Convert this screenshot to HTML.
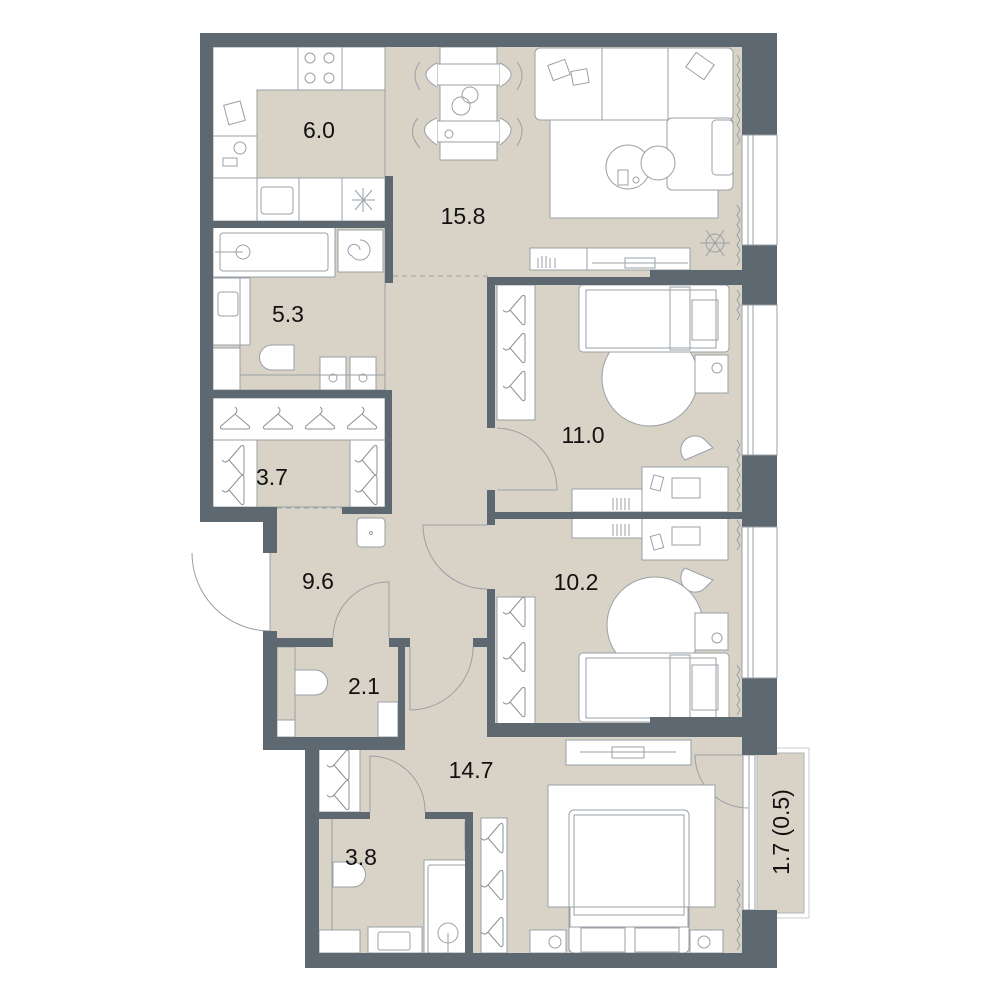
<!DOCTYPE html>
<html><head><meta charset="utf-8"><style>
html,body{margin:0;padding:0;background:#fff;}
svg{display:block;}
text{font-family:"Liberation Sans",sans-serif;font-size:23px;fill:#111;}
</style></head><body>
<svg width="1000" height="1000" viewBox="0 0 1000 1000" xmlns="http://www.w3.org/2000/svg">
<defs>
<g id="hangV"><path d="M0,-22 L-10,4 Q-12,8 -7,8 L7,8 Q12,8 10,4 Z" fill="none" stroke="#8a9095" stroke-width="1"/></g>
<g id="hanger"><path d="M-14,6 L0,-6 L14,6 Q16,9 12,9 L-12,9 Q-16,9 -14,6 Z M0,-6 Q4,-10 0,-13" fill="none" stroke="#8a9095" stroke-width="1"/></g>
<g id="hangerR"><path d="M6,-14 L-6,0 L6,14 Q9,16 9,12 L9,-12 Q9,-16 6,-14 Z M-6,0 Q-10,4 -13,0" fill="none" stroke="#8a9095" stroke-width="1"/></g>
</defs>
<g stroke="#9aa0a5" stroke-width="1" fill="none">
<!-- beige floors -->
<rect x="213" y="47" width="530" height="906" fill="#d8d3c6" stroke="none"/>
<!-- white exterior pieces outside -->
<rect x="200" y="522" width="63" height="450" fill="#fff" stroke="none"/>
<rect x="263" y="750" width="42" height="220" fill="#fff" stroke="none"/>
<!-- balcony -->
<rect x="752" y="748" width="57" height="170" fill="#fff" stroke="#c8ccd0"/>
<rect x="757" y="753" width="47" height="160" fill="#d8d3c6" stroke="#b0b5b8"/>
<rect x="743" y="755" width="12" height="155" fill="#fff"/>
<line x1="749" y1="755" x2="749" y2="910"/>

<!-- Kitchen -->
<rect x="213" y="47" width="172" height="174" fill="#fff"/>
<rect x="257" y="90" width="128" height="88" fill="#d8d3c6"/>
<line x1="298" y1="47" x2="298" y2="90"/><line x1="342" y1="47" x2="342" y2="90"/>
<circle cx="310" cy="58" r="5"/><circle cx="329" cy="58" r="5"/><circle cx="310" cy="78" r="5"/><circle cx="329" cy="78" r="5"/>
<line x1="213" y1="136" x2="257" y2="136"/><line x1="213" y1="178" x2="257" y2="178"/>
<line x1="257" y1="178" x2="257" y2="221"/><line x1="299" y1="178" x2="299" y2="221"/><line x1="342" y1="178" x2="342" y2="221"/>
<rect x="261" y="187" width="32" height="27" rx="3"/>
<path d="M355,190 L372,210 M372,190 L355,210 M363,188 L363,212 M352,200 L375,200"/>
<rect x="226" y="103" width="17" height="20" transform="rotate(-15 234 113)"/>
<circle cx="240" cy="148" r="6"/><rect x="223" y="158" width="14" height="8"/>
<line x1="385" y1="90" x2="385" y2="176" stroke-dasharray="5,4"/>
<!-- Living -->
<line x1="393" y1="276" x2="488" y2="276" stroke-dasharray="5,4"/>
<rect x="440" y="47" width="57" height="113" fill="#fff"/>
<rect x="437" y="64" width="63" height="21" fill="#fff"/>
<rect x="437" y="121" width="63" height="21" fill="#fff"/>
<path d="M437,63 Q415,74 437,87 M500,63 Q522,74 500,87 M437,118 Q412,128 437,145 M500,118 Q522,128 500,145" fill="#fff"/>
<path d="M420,62 Q410,75 420,90 M517,62 Q527,75 517,90 M418,118 Q406,132 420,148 M517,118 Q527,130 517,146"/>
<circle cx="470" cy="95" r="8"/><circle cx="461" cy="106" r="9"/><circle cx="449" cy="134" r="4"/>
<rect x="550" y="110" width="168" height="108" fill="#fff"/>
<rect x="535" y="48" width="198" height="72" rx="5" fill="#fff"/>
<line x1="602" y1="48" x2="602" y2="120"/><line x1="668" y1="48" x2="668" y2="120"/>
<rect x="667" y="118" width="66" height="72" rx="5" fill="#fff"/>
<rect x="712" y="120" width="21" height="55" rx="4"/>
<rect x="550" y="62" width="18" height="16" transform="rotate(-20 559 70)"/>
<rect x="572" y="70" width="16" height="14" transform="rotate(-10 580 77)"/>
<rect x="689" y="57" width="22" height="18" transform="rotate(35 700 66)"/>
<circle cx="628" cy="167" r="22" fill="#fff"/><circle cx="658" cy="163" r="17" fill="#fff"/>
<rect x="618" y="170" width="10" height="15"/><circle cx="636" cy="180" r="3"/>
<rect x="530" y="248" width="160" height="22" fill="#fff"/>
<line x1="587" y1="248" x2="587" y2="270"/>
<line x1="592" y1="263" x2="688" y2="263"/><rect x="625" y="258" width="30" height="10"/>
<path d="M538,268 v-10 M542,268 v-12 M546,268 v-12 M550,268 v-10 M555,268 v-10"/>
<circle cx="715" cy="243" r="9"/><path d="M706,230 L724,256 M724,230 L706,256 M700,243 L730,243"/>
<path d="M737,55 l3,5 -3,5 3,5 -3,5 3,5 -3,5 3,5 -3,5 3,5 -3,5 3,5 -3,5 3,5 -3,5 3,5 -3,5 3,5 -3,5"/>
<path d="M737,205 l3,5 -3,5 3,5 -3,5 3,5 -3,5 3,5 -3,5 3,5 -3,5 3,5 -3,5"/>
<!-- Bath 5.3 -->
<rect x="213" y="227" width="172" height="163" fill="#d8d3c6"/>
<rect x="213" y="227" width="122" height="50" fill="#fff"/>
<rect x="220" y="233" width="108" height="38" rx="3"/>
<circle cx="243" cy="252" r="7"/><line x1="215" y1="252" x2="243" y2="252"/>
<rect x="338" y="230" width="45" height="42" fill="#fff"/>
<path d="M360,240 a10,10 0 1 1 -8,16 a6,6 0 1 1 8,-6"/>
<rect x="213" y="278" width="37" height="67" fill="#fff"/>
<rect x="218" y="292" width="20" height="24" rx="3"/>
<rect x="213" y="348" width="27" height="42" fill="#fff"/>
<line x1="240" y1="278" x2="240" y2="390"/>
<path d="M272,345 h22 v25 h-22 a12,12 0 0 1 0,-25 z" fill="#fff"/>
<rect x="320" y="357" width="26" height="33" fill="#fff"/><rect x="350" y="357" width="26" height="33" fill="#fff"/>
<circle cx="333" cy="378" r="4"/><circle cx="363" cy="378" r="4"/>
<line x1="240" y1="375" x2="385" y2="375"/>
<!-- Wardrobe 3.7 -->
<rect x="213" y="398" width="172" height="109" fill="#fff"/>
<rect x="257" y="440" width="93" height="67" fill="#d8d3c6"/>
<line x1="213" y1="440" x2="385" y2="440"/>
<use href="#hanger" x="235" y="420"/><use href="#hanger" x="278" y="420"/><use href="#hanger" x="320" y="420"/><use href="#hanger" x="362" y="420"/>
<use href="#hangerR" x="235" y="460"/><use href="#hangerR" x="235" y="490"/><use href="#hangerR" x="368" y="460"/><use href="#hangerR" x="368" y="490"/>
<line x1="277" y1="508" x2="342" y2="508" stroke-dasharray="5,4"/>
<rect x="357" y="518" width="28" height="29" rx="4" fill="#fff"/><circle cx="371" cy="533" r="1.5"/>
<!-- entry door -->
<path d="M192,553 A78,78 0 0 0 270,631 L270,553" fill="#fff"/>
<!-- WC 2.1 -->
<rect x="277" y="647" width="18" height="73"/>
<rect x="277" y="720" width="18" height="17" fill="#fff"/>
<path d="M295,670 h20 a12,12 0 0 1 0,25 h-20 z" fill="#fff"/>
<rect x="378" y="702" width="20" height="35" fill="#fff"/>
<path d="M333,638 A56,56 0 0 1 389,582 L389,638"/>
<path d="M410,710 L410,647 M410,710 A63,63 0 0 0 473,647"/>
<!-- Bedroom 11.0 -->
<rect x="497" y="285" width="38" height="135" fill="#fff"/>
<use href="#hangerR" x="516" y="310"/><use href="#hangerR" x="516" y="348"/><use href="#hangerR" x="516" y="386"/>
<circle cx="650" cy="378" r="48" fill="#fff"/>
<rect x="579" y="285" width="150" height="67" rx="4" fill="#fff"/>
<rect x="586" y="290" width="130" height="58"/>
<rect x="670" y="287" width="20" height="63"/>
<rect x="692" y="300" width="26" height="40"/>
<rect x="695" y="355" width="33" height="38" fill="#fff"/><circle cx="717" cy="368" r="5"/>
<path d="M497,428 A62,62 0 0 1 557,490 L497,490"/>
<rect x="572" y="489" width="70" height="23" fill="#fff"/>
<path d="M613,510 v-12 M617,510 v-12 M621,510 v-12 M625,510 v-12 M629,510 v-12"/>
<rect x="642" y="467" width="86" height="45" fill="#fff"/>
<rect x="672" y="478" width="28" height="20"/><rect x="652" y="476" width="10" height="14" transform="rotate(15 657 483)"/>
<path d="M685,460 a14,14 0 0 1 20,-20 l8,8 z" fill="#fff"/>
<path d="M737,290 l3,5 -3,5 3,5 -3,5 3,5 -3,5 M737,440 l3,5 -3,5 3,5 -3,5 3,5 -3,5 3,5 -3,5 3,5 -3,5 3,5 -3,5 3,5 -3,5"/>
<!-- Bedroom 10.2 -->
<rect x="572" y="518" width="70" height="20" fill="#fff"/>
<path d="M613,536 v-12 M617,536 v-12 M621,536 v-12 M625,536 v-12 M629,536 v-12"/>
<rect x="642" y="518" width="86" height="42" fill="#fff"/>
<rect x="672" y="527" width="28" height="18"/><rect x="652" y="535" width="10" height="14" transform="rotate(-15 657 542)"/>
<path d="M685,568 a14,14 0 0 0 20,20 l8,-8 z" fill="#fff"/>
<circle cx="655" cy="625" r="48" fill="#fff"/>
<rect x="695" y="613" width="33" height="37" fill="#fff"/><circle cx="717" cy="638" r="5"/>
<rect x="579" y="653" width="150" height="69" rx="4" fill="#fff"/>
<rect x="586" y="658" width="130" height="60"/>
<rect x="670" y="655" width="20" height="65"/>
<rect x="692" y="665" width="26" height="45"/>
<rect x="497" y="597" width="38" height="133" fill="#fff"/>
<use href="#hangerR" x="516" y="612"/><use href="#hangerR" x="516" y="657"/><use href="#hangerR" x="516" y="702"/>
<path d="M487,525 L423,525 A64,64 0 0 0 487,589"/>
<path d="M737,520 l3,5 -3,5 3,5 -3,5 3,5 -3,5 M737,665 l3,5 -3,5 3,5 -3,5 3,5 -3,5 3,5 -3,5 3,5 -3,5"/>
<!-- Bedroom 14.7 -->
<rect x="319" y="745" width="41" height="67" fill="#fff"/>
<use href="#hangerR" x="340" y="765"/><use href="#hangerR" x="340" y="795"/>
<path d="M370,812 L370,756 A55,55 0 0 1 425,812"/>
<rect x="566" y="740" width="125" height="25" fill="#fff"/>
<line x1="580" y1="752" x2="676" y2="752"/><rect x="612" y="747" width="32" height="11"/>
<path d="M748,755 L695,755 A53,53 0 0 0 748,808"/>
<rect x="548" y="785" width="167" height="122" fill="#fff"/>
<rect x="569" y="810" width="120" height="143" rx="5" fill="#fff"/>
<rect x="574" y="815" width="110" height="100"/>
<rect x="570" y="907" width="118" height="20"/>
<rect x="581" y="928" width="44" height="24"/><rect x="635" y="928" width="44" height="24"/>
<rect x="530" y="930" width="36" height="23" fill="#fff"/><circle cx="555" cy="942" r="6"/>
<rect x="690" y="930" width="33" height="23" fill="#fff"/><circle cx="704" cy="942" r="6"/>
<rect x="481" y="818" width="26" height="135" fill="#fff"/>
<use href="#hangerR" x="494" y="838"/><use href="#hangerR" x="494" y="885"/><use href="#hangerR" x="494" y="932"/>
<path d="M737,880 l3,5 -3,5 3,5 -3,5 3,5 -3,5 3,5 -3,5 3,5 -3,5 3,5 -3,5 3,5 -3,5"/>
<!-- Bath 3.8 -->
<rect x="319" y="930" width="41" height="23" fill="#fff"/>
<line x1="332" y1="819" x2="332" y2="930"/>
<path d="M333,862 h20 a12,12 0 0 1 0,25 h-20 z" fill="#fff"/>
<rect x="424" y="860" width="46" height="93" fill="#fff"/>
<rect x="428" y="865" width="38" height="88" rx="2"/>
<circle cx="448" cy="933" r="10"/><line x1="448" y1="933" x2="448" y2="953"/>
<rect x="368" y="927" width="54" height="26" fill="#fff"/><rect x="378" y="932" width="32" height="18" rx="2"/>
<rect x="465" y="822" width="4" height="28"/>
</g>
<!-- Walls -->
<g fill="#5d6870">
<rect x="200" y="33" width="576" height="14"/>
<rect x="200" y="33" width="13" height="489"/>
<rect x="200" y="507" width="77" height="15"/>
<rect x="263" y="507" width="14" height="46"/>
<rect x="213" y="221" width="179" height="7"/>
<rect x="385" y="176" width="8" height="107"/>
<rect x="200" y="390" width="192" height="8"/>
<rect x="385" y="390" width="7" height="124"/>
<rect x="342" y="507" width="50" height="7"/>
<rect x="263" y="631" width="14" height="119"/>
<rect x="263" y="638" width="70" height="9"/>
<rect x="389" y="638" width="21" height="9"/>
<rect x="398" y="638" width="7" height="112"/>
<rect x="263" y="737" width="142" height="13"/>
<rect x="305" y="745" width="14" height="223"/>
<rect x="305" y="953" width="472" height="15"/>
<rect x="319" y="812" width="51" height="7"/>
<rect x="425" y="812" width="48" height="7"/>
<rect x="465" y="812" width="8" height="141"/>
<rect x="473" y="638" width="14" height="9"/>
<!-- right exterior -->
<rect x="742" y="33" width="35" height="102"/>
<rect x="742" y="245" width="35" height="60"/>
<rect x="742" y="455" width="35" height="72"/>
<rect x="742" y="678" width="35" height="77"/>
<rect x="742" y="910" width="35" height="58"/>
<!-- bedroom walls -->
<rect x="650" y="270" width="92" height="15"/>
<rect x="487" y="277" width="255" height="8"/>
<rect x="487" y="277" width="8" height="151"/>
<rect x="487" y="490" width="8" height="35"/>
<rect x="487" y="512" width="255" height="7"/>
<rect x="487" y="589" width="8" height="148"/>
<rect x="487" y="723" width="255" height="14"/>
<rect x="650" y="717" width="92" height="20"/>
</g>
<!-- windows -->
<g fill="#fff" stroke="#9aa0a5" stroke-width="1">
<rect x="742" y="135" width="35" height="110"/>
<rect x="742" y="305" width="35" height="150"/>
<rect x="742" y="527" width="35" height="151"/>
</g>
<g stroke="#9aa0a5" stroke-width="1">
<line x1="748" y1="135" x2="748" y2="245"/><line x1="753" y1="135" x2="753" y2="245"/>
<line x1="748" y1="305" x2="748" y2="455"/><line x1="753" y1="305" x2="753" y2="455"/>
<line x1="748" y1="527" x2="748" y2="678"/><line x1="753" y1="527" x2="753" y2="678"/>
</g>
<!-- labels -->
<text x="319" y="138" text-anchor="middle">6.0</text>
<text x="463" y="224" text-anchor="middle">15.8</text>
<text x="288" y="322" text-anchor="middle">5.3</text>
<text x="272" y="485" text-anchor="middle">3.7</text>
<text x="318" y="589" text-anchor="middle">9.6</text>
<text x="364" y="694" text-anchor="middle">2.1</text>
<text x="583" y="443" text-anchor="middle">11.0</text>
<text x="576" y="590" text-anchor="middle">10.2</text>
<text x="471" y="778" text-anchor="middle">14.7</text>
<text x="361" y="865" text-anchor="middle">3.8</text>
<text x="0" y="0" text-anchor="middle" transform="translate(789,832) rotate(-90)">1.7 (0.5)</text>
</svg>
</body></html>
